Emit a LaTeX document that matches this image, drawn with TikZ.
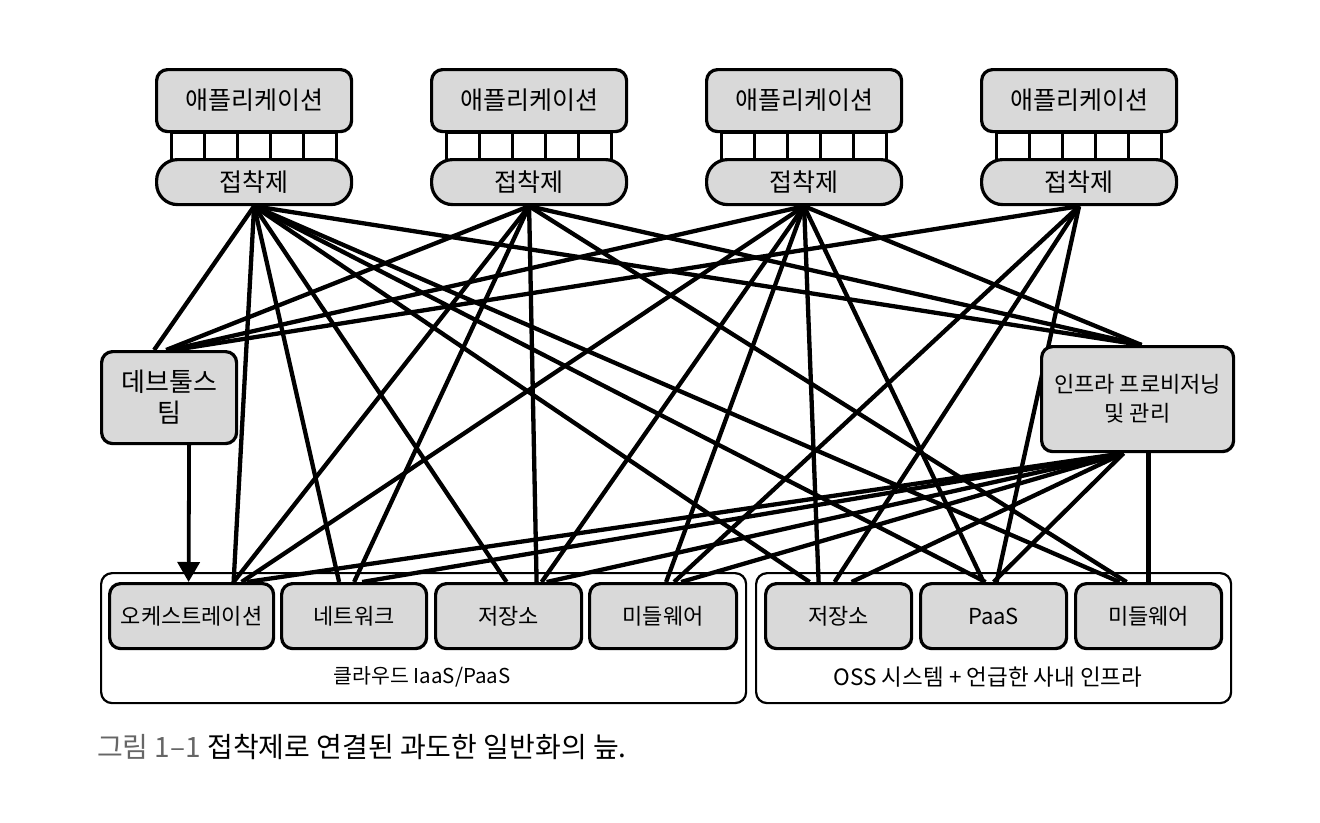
\documentclass[tikz,border=0pt]{standalone}
\usepackage{fontspec}
\setmainfont{Noto Sans CJK KR}
\usetikzlibrary{arrows.meta,positioning}
\pgfdeclarelayer{back}
\pgfdeclarelayer{lines}
\pgfsetlayers{back,lines,main}
\definecolor{boxgray}{HTML}{D9D9D9}
\definecolor{capgray}{HTML}{666666}
\tikzset{
  graybox/.style={draw=black, line width=3.2pt, fill=boxgray, rounded corners=11pt, inner sep=0pt, anchor=north west, font=\fontsize{25}{29}\selectfont},
  lowbox/.style={graybox, minimum height=65pt, font=\fontsize{22}{26}\selectfont},
  gluebox/.style={draw=black, line width=3.2pt, fill=boxgray, rounded corners=21pt, inner sep=0pt, anchor=north west, minimum width=195pt, minimum height=45pt, font=\fontsize{25}{29}\selectfont},
  cell/.style={draw=black, line width=2.5pt, fill=white, inner sep=0pt, anchor=north west, minimum width=33pt, minimum height=28pt},
  outerbox/.style={draw=black, line width=2.2pt, fill=white, rounded corners=11pt, inner sep=0pt, anchor=north west, minimum height=130pt},
  link/.style={line width=4.3pt, black},
  lbl/.style={inner sep=0pt}
}
\begin{document}
\begin{tikzpicture}[x=1pt,y=-1pt]
\useasboundingbox (0,0) rectangle (1320,822);
\begin{pgfonlayer}{back}
\fill[white] (0,0) rectangle (1320,822);
\end{pgfonlayer}

% application stacks
\foreach \i/\x in {1/155,2/430,3/705,4/980}{
  \node[graybox, minimum width=195pt, minimum height=62pt] (app\i) at (\x,68) {애플리케이션};
  \foreach \k in {0,...,4}{
    \node[cell] (c\i\k) at (\x+15+\k*33,131) {};
  }
  \node[gluebox] (g\i) at (\x,158) {접착제};
}

% middle boxes
\node[graybox, minimum width=135pt, minimum height=92pt, align=center, font=\fontsize{26}{30}\selectfont] (dev) at (100,350) {데브툴스\\[1pt]팀};
\node[graybox, minimum width=192pt, minimum height=105pt, align=center, font=\fontsize{22}{26}\selectfont] (infra) at (1040,345) {인프라 프로비저닝\\[3pt]및 관리};

% bottom containers
\begin{pgfonlayer}{back}
\node[outerbox, minimum width=645pt] (cloud) at (100,572) {};
\node[outerbox, minimum width=475pt] (oss) at (755,572) {};
\end{pgfonlayer}
\node[lbl, font=\fontsize{20.5}{24}\selectfont] (cloudlbl) at (422,677) {클라우드 IaaS/PaaS};
\node[lbl, font=\fontsize{22.5}{26}\selectfont] (osslbl) at (988,677) {OSS 시스템 + 언급한 사내 인프라};

\node[lowbox, minimum width=164pt] (orch) at (108,582) {오케스트레이션};
\node[lowbox, minimum width=145pt] (net) at (280,582) {네트워크};
\node[lowbox, minimum width=146pt] (stor1) at (434,582) {저장소};
\node[lowbox, minimum width=147pt] (mw1) at (588,582) {미들웨어};
\node[lowbox, minimum width=146pt] (stor2) at (764,582) {저장소};
\node[lowbox, minimum width=146pt] (paas) at (919,582) {PaaS};
\node[lowbox, minimum width=146pt] (mw2) at (1074,582) {미들웨어};

% connectors
\begin{pgfonlayer}{lines}
% glue 1
\draw[link] (g1.south) -- ([xshift=-15pt]dev.north);
\draw[link] (g1.south) -- ([xshift=42pt]orch.north);
\draw[link] (g1.south) -- ([xshift=-15pt]net.north);
\draw[link] (g1.south) -- ([xshift=-2pt]stor1.north);
\draw[link] (g1.south) -- ([xshift=-29pt]stor2.north);
\draw[link] (g1.south) -- ([xshift=-8pt]paas.north);
\draw[link] (g1.south) -- ([xshift=-29pt]mw2.north);
\draw[link] (g1.south) -- ([xshift=4pt]infra.north);
% glue 2
\draw[link] (g2.south) -- ([xshift=-3pt]dev.north);
\draw[link] (g2.south) -- ([xshift=42pt]orch.north);
\draw[link] (g2.south) -- (net.north);
\draw[link] (g2.south) -- ([xshift=28pt]stor1.north);
\draw[link] (g2.south) -- ([xshift=4pt]infra.north);
\draw[link] (g2.south) -- ([xshift=-22pt]mw2.north);
% glue 3
\draw[link] (g3.south) -- ([xshift=1pt]dev.north);
\draw[link] (g3.south) -- ([xshift=50pt]orch.north);
\draw[link] (g3.south) -- ([xshift=33pt]stor1.north);
\draw[link] (g3.south) -- ([xshift=3pt]mw1.north);
\draw[link] (g3.south) -- ([xshift=-20pt]stor2.north);
\draw[link] (g3.south) -- ([xshift=-10pt]paas.north);
\draw[link] (g3.south) -- ([xshift=4pt]infra.north);
% glue 4
\draw[link] (g4.south) -- ([xshift=5pt]dev.north);
\draw[link] (g4.south) -- ([xshift=11pt]mw1.north);
\draw[link] (g4.south) -- ([xshift=-4pt]stor2.north);
\draw[link] (g4.south) -- ([xshift=3pt]paas.north);
% infra
\draw[link] ([xshift=-14pt]infra.south) -- ([xshift=55pt]orch.north);
\draw[link] ([xshift=-14pt]infra.south) -- ([xshift=8pt]net.north);
\draw[link] ([xshift=-14pt]infra.south) -- ([xshift=38pt]stor1.north);
\draw[link] ([xshift=-14pt]infra.south) -- ([xshift=18pt]mw1.north);
\draw[link] ([xshift=-14pt]infra.south) -- ([xshift=13pt]stor2.north);
\draw[link] ([xshift=-14pt]infra.south) -- (paas.north);
\draw[link] ([xshift=11pt]infra.south) -- ([xshift=0pt]mw2.north);
% devtools arrow
\draw[line width=3.8pt, -{Triangle[width=22pt,length=20pt]}] ([xshift=20pt]dev.south) -- ([xshift=-3pt]orch.north);
\end{pgfonlayer}

% caption
\node[anchor=west, inner sep=0pt, font=\fontsize{28}{32}\selectfont] (cap) at (97,747) {\textcolor{capgray}{그림 1–1} 접착제로 연결된 과도한 일반화의 늪.};
\end{tikzpicture}
\end{document}
